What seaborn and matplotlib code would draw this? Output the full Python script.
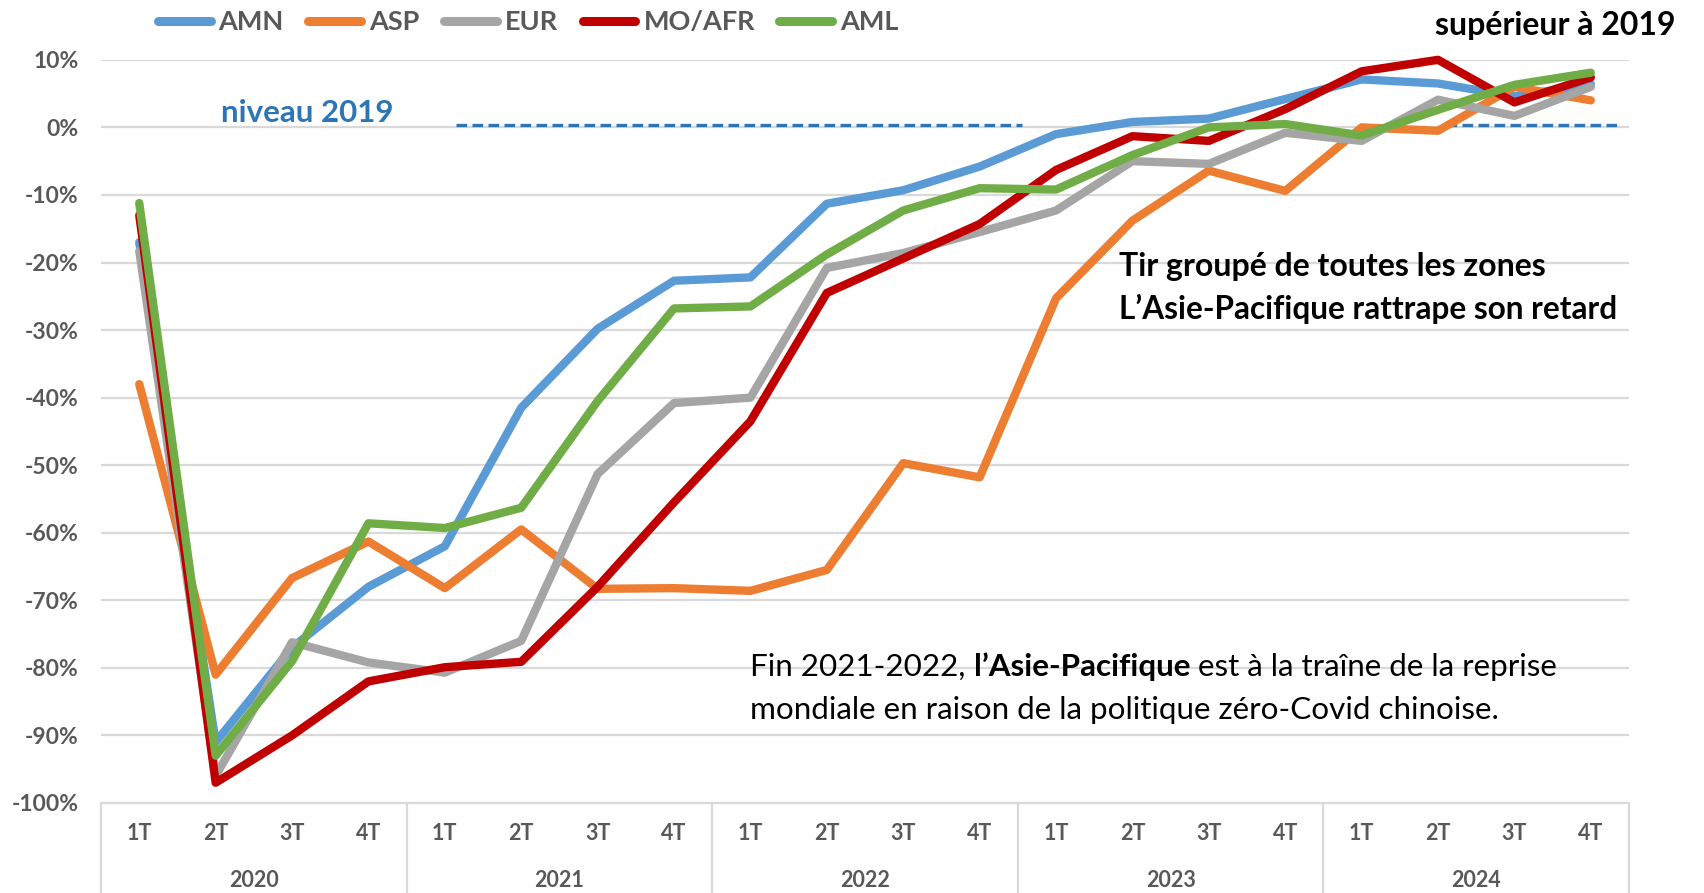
import pandas as pd
import matplotlib
matplotlib.use("Agg")
import matplotlib.pyplot as plt
import matplotlib.transforms as mtransforms
import seaborn as sns

# ------------------------
# données (variation vs 2019, en %)
# ------------------------
years = ["2020", "2021", "2022", "2023", "2024"]
quarters = ["1T", "2T", "3T", "4T"]
zones = ["AMN", "ASP", "EUR", "MO/AFR", "AML"]
colors = ["#5b9bd5", "#ed7d31", "#a5a5a5", "#c00000", "#70ad47"]

amn = [-17, -91, -77, -68, -62, -41.5, -29.8, -22.7, -22.2, -11.3, -9.3, -5.8,
       -1, 0.8, 1.3, 4.2, 7.1, 6.5, 4.6, 6.4]
asp = [-38, -81, -66.7, -61.3, -68.2, -59.5, -68.3, -68.2, -68.6, -65.5, -49.7, -51.8,
       -25.3, -13.8, -6.4, -9.4, 0, -0.5, 6, 4]
eur = [-18.3, -96, -76.2, -79.2, -80.7, -76, -51.3, -40.8, -40, -20.8, -18.6, -15.5,
       -12.3, -5, -5.4, -0.8, -2, 4.1, 1.7, 6]
mo_afr = [-13, -97, -90, -82, -79.9, -79.1, -68, -55.5, -43.5, -24.5, -19.4, -14.3,
          -6.3, -1.3, -2, 2.7, 8.3, 10, 3.7, 7.4]
aml = [-11.2, -93, -79, -58.6, -59.3, -56.3, -40.5, -26.8, -26.5, -18.8, -12.3, -9,
       -9.2, -4.1, 0, 0.5, -1.2, 2.6, 6.3, 8.1]

# ligne "niveau 2019" (pointillés)
niveau_y = [0.3, 0.3]
niveau_start = [4.15, 17.1]
niveau_end = [11.55, 19.35]

series = dict(zip(zones, [amn, asp, eur, mo_afr, aml]))
rows = []
for z, vals in series.items():
    for i, v in enumerate(vals):
        rows.append({"zone": z, "pos": i, "value": v})
df = pd.DataFrame(rows)

# ------------------------
# figure
# ------------------------
sns.set_style("white")
plt.rcParams['font.family'] = ['Lato', 'DejaVu Sans']

fig = plt.figure(figsize=(17.04, 8.93), dpi=100)
ax = fig.add_axes([0.0593, 0.1008, 0.8967, 0.8322])

grey_txt = "#595959"
grid_c = "#d9d9d9"

for t in range(-90, 11, 10):
    ax.axhline(t, color=grid_c, lw=1.6, zorder=0)

ax.hlines(niveau_y, niveau_start, niveau_end, colors="#2e75b6", lw=2.4,
          linestyles=(0, (3.2, 1.6)), zorder=1)

sns.lineplot(data=df, x="pos", y="value", hue="zone", hue_order=zones,
             palette=colors, linewidth=6, sort=False, ax=ax,
             solid_capstyle="round", solid_joinstyle="round", clip_on=False, zorder=3)

ax.set_xlim(-0.5, 19.5)
ax.set_ylim(-100, 10)
ax.set_xlabel("")
ax.set_ylabel("")
for s in ["top", "right", "left"]:
    ax.spines[s].set_visible(False)
ax.spines["bottom"].set_color(grid_c)
ax.spines["bottom"].set_linewidth(1.6)

ax.set_yticks(range(-100, 11, 10))
ax.set_yticklabels([f"{t}%" for t in range(-100, 11, 10)])
ax.tick_params(axis="y", length=0, pad=16, labelsize=16.5, labelcolor=grey_txt)
for lab in ax.get_yticklabels():
    lab.set_fontweight("bold")
ax.set_xticks([])

# axe multi-niveaux
trans = mtransforms.blended_transform_factory(ax.transData, ax.transAxes)
for i in range(len(years) * len(quarters)):
    ax.text(i, -0.041, quarters[i % 4], transform=trans, ha="center", va="center",
            fontsize=15.5, fontweight="bold", color=grey_txt)
for k, y in enumerate(years):
    ax.text(4 * k + 1.5, -0.104, y, transform=trans, ha="center", va="center",
            fontsize=15.5, fontweight="bold", color=grey_txt)
for xb in [-0.5, 3.5, 7.5, 11.5, 15.5, 19.5]:
    ax.plot([xb, xb], [0, -0.125], transform=trans, color=grid_c, lw=1.6, clip_on=False)

# légende
sns.move_legend(ax, "upper center", bbox_to_anchor=(0.31, 1.016),
                bbox_transform=fig.transFigure, ncol=5, frameon=False, title=None,
                handlelength=1.95, handletextpad=0.3, columnspacing=0.9,
                prop={"size": 19.5, "weight": "bold"})
leg = ax.get_legend()
for h in leg.get_lines():
    h.set_linewidth(6.5)
    h.set_solid_capstyle("round")
for t in leg.get_texts():
    t.set_color(grey_txt)

# textes
ax.text(2.2, 2.2, "niveau 2019", ha="center", va="center", fontsize=22.5,
        fontweight="bold", color="#2e75b6")
fig.text(0.983, 0.972, "supérieur à 2019", ha="right", va="center", fontsize=23,
         fontweight="bold", color="black")
ax.text(12.83, -20.6, "Tir groupé de toutes les zones", ha="left", va="center",
        fontsize=23, fontweight="bold", color="black")
ax.text(12.83, -26.8, "L’Asie-Pacifique rattrape son retard", ha="left", va="center",
        fontsize=22.7, fontweight="bold", color="black")

t1 = ax.text(8.0, -79.9, "Fin 2021-2022, ", ha="left", va="center", fontsize=22.6, color="black")
t2 = ax.annotate("l’Asie-Pacifique", xy=(1, 0), xycoords=t1, ha="left", va="bottom",
                 fontsize=22.6, fontweight="bold", color="black")
ax.annotate(" est à la traîne de la reprise", xy=(1, 0), xycoords=t2, ha="left", va="bottom",
            fontsize=22.6, color="black")
ax.text(8.0, -86.3, "mondiale en raison de la politique zéro-Covid chinoise.", ha="left",
        va="center", fontsize=22.6, color="black")

fig.savefig("out.png", dpi=100)
